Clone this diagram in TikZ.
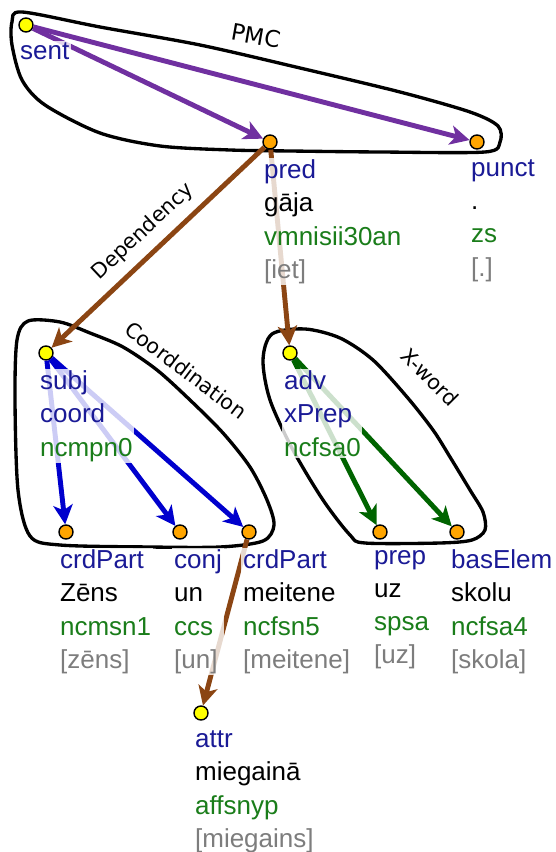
\documentclass[tikz,border=0pt]{standalone}
\usepackage{fontspec}
\setmainfont{Liberation Sans}
\newfontfamily\handfont{DejaVu Sans}
\usetikzlibrary{arrows.meta,positioning}

\definecolor{rolec}{RGB}{26,26,150}
\definecolor{tagc}{RGB}{26,125,26}
\definecolor{lemc}{RGB}{125,125,125}
\definecolor{pmcc}{RGB}{112,48,160}
\definecolor{depc}{RGB}{139,69,19}
\definecolor{crdc}{RGB}{0,0,205}
\definecolor{xwc}{RGB}{0,100,0}
\definecolor{wordc}{RGB}{255,165,0}
\definecolor{rootc}{RGB}{255,255,0}

\newcommand{\tok}[4]{\textcolor{rolec}{#1}\\#2\\\textcolor{tagc}{#3}\\\textcolor{lemc}{#4}}
\newcommand{\grp}[3]{\textcolor{rolec}{#1}\\\textcolor{rolec}{#2}\\\textcolor{tagc}{#3}}

\tikzset{
  word/.style={circle, draw=black, line width=0.8pt, fill=wordc, minimum size=0.28cm, inner sep=0pt},
  root/.style={word, fill=rootc},
  lbl/.style={align=left, inner sep=1pt, fill=white, fill opacity=0.8, text opacity=1,
              font=\fontsize{14.8}{18.8}\selectfont},
  blob/.style={line width=1.9pt, black},
  glbl/.style={text=black, font=\handfont\fontsize{11.8}{13}\selectfont},
  link/.style={-{Stealth[length=11pt,width=11pt,inset=3pt]}, line width=2.8pt},
}

\begin{document}
\begin{tikzpicture}[scale=2]
\useasboundingbox (0,0) rectangle (5.56,-8.52);

  % group outlines
  \draw [blob] plot [smooth cycle] coordinates {(0.22,-0.12) (1.00,-0.27) (2.00,-0.45) (3.00,-0.68)
    (4.00,-0.92) (4.70,-1.12) (4.98,-1.26) (5.00,-1.42) (4.85,-1.52) (3.80,-1.52) (2.90,-1.51)
    (2.30,-1.50) (1.60,-1.46) (1.00,-1.33) (0.45,-1.05) (0.22,-0.80) (0.12,-0.45) (0.12,-0.22)};
  \draw [blob] plot [smooth cycle] coordinates {(0.28,-3.21) (0.60,-3.22) (0.90,-3.33) (1.23,-3.47)
    (1.57,-3.70) (1.90,-4.00) (2.23,-4.33) (2.50,-4.67) (2.67,-5.00) (2.74,-5.25) (2.63,-5.41)
    (2.20,-5.47) (1.50,-5.47) (0.60,-5.45) (0.30,-5.36) (0.18,-4.90) (0.15,-4.00) (0.17,-3.40)};
  \draw [blob] plot [smooth cycle] coordinates {(2.72,-3.34) (3.05,-3.29) (3.40,-3.38) (3.73,-3.60)
    (4.07,-3.97) (4.33,-4.30) (4.50,-4.57) (4.70,-4.90) (4.83,-5.12) (4.85,-5.30) (4.72,-5.40)
    (4.40,-5.43) (3.65,-5.43) (3.50,-5.35) (3.23,-5.00) (2.93,-4.50) (2.70,-4.00) (2.63,-3.60)};

  \node [glbl, rotate=-10, font=\handfont\fontsize{13}{14}\selectfont] (pmcL) at (2.56,-0.36) {PMC};
  \node [glbl, rotate=-37] (crdL) at (1.86,-3.70) {Coorddination};
  \node [glbl, rotate=-45] (xwL) at (4.30,-3.77) {X-word};

  % tokens
  \node [root] (sent) at (0.26,-0.25) {};
  \node [word] (pred) at (2.70,-1.42) {};
  \node [word] (punct) at (4.77,-1.42) {};
  \node [root] (subj) at (0.46,-3.53) {};
  \node [root] (adv) at (2.90,-3.53) {};
  \node [word] (crdPartA) at (0.66,-5.32) {};
  \node [word] (conj) at (1.80,-5.32) {};
  \node [word] (crdPartB) at (2.49,-5.32) {};
  \node [word] (prep) at (3.80,-5.32) {};
  \node [word] (basElem) at (4.57,-5.32) {};
  \node [root] (attr) at (2.01,-7.13) {};

  % links
  \draw [link, pmcc] (sent) -- (pred);
  \draw [link, pmcc] (sent) -- (punct);
  \draw [link, depc] (pred) -- node [glbl, sloped, above=2pt] (depL) {Dependency} (subj);
  \draw [link, depc] (pred) -- (adv);
  \draw [link, depc] (crdPartB) -- (attr);
  \draw [link, crdc] (subj) -- (crdPartA);
  \draw [link, crdc] (subj) -- (conj);
  \draw [link, crdc] (subj) -- (crdPartB);
  \draw [link, xwc] (adv) -- (prep);
  \draw [link, xwc] (adv) -- (basElem);

  % labels
  \node [lbl, below right=0.32cm and -0.16cm of sent.center] (sentL) {\textcolor{rolec}{sent}};
  \node [lbl, below right=0.32cm and -0.16cm of pred.center] (predL) {\tok{pred}{gāja}{vmnisii30an}{[iet]}};
  \node [lbl, below right=0.32cm and -0.16cm of punct.center] (punctL) {\tok{punct}{.}{zs}{[.]}};
  \node [lbl, below right=0.32cm and -0.16cm of subj.center] (subjL) {\grp{subj}{coord}{ncmpn0}};
  \node [lbl, below right=0.32cm and -0.16cm of adv.center] (advL) {\grp{adv}{xPrep}{ncfsa0}};
  \node [lbl, below right=0.32cm and -0.16cm of crdPartA.center] (crdPartAL) {\tok{crdPart}{Zēns}{ncmsn1}{[zēns]}};
  \node [lbl, below right=0.32cm and -0.16cm of conj.center] (conjL) {\tok{conj}{un}{ccs}{[un]}};
  \node [lbl, below right=0.32cm and -0.16cm of crdPartB.center] (crdPartBL) {\tok{crdPart}{meitene}{ncfsn5}{[meitene]}};
  \node [lbl, below right=0.32cm and -0.16cm of prep.center] (prepL) {\tok{prep}{uz}{spsa}{[uz]}};
  \node [lbl, below right=0.32cm and -0.16cm of basElem.center] (basElemL) {\tok{basElem}{skolu}{ncfsa4}{[skola]}};
  \node [lbl, below right=0.32cm and -0.16cm of attr.center] (attrL) {\tok{attr}{miegainā}{affsnyp}{[miegains]}};
\end{tikzpicture}
\end{document}
